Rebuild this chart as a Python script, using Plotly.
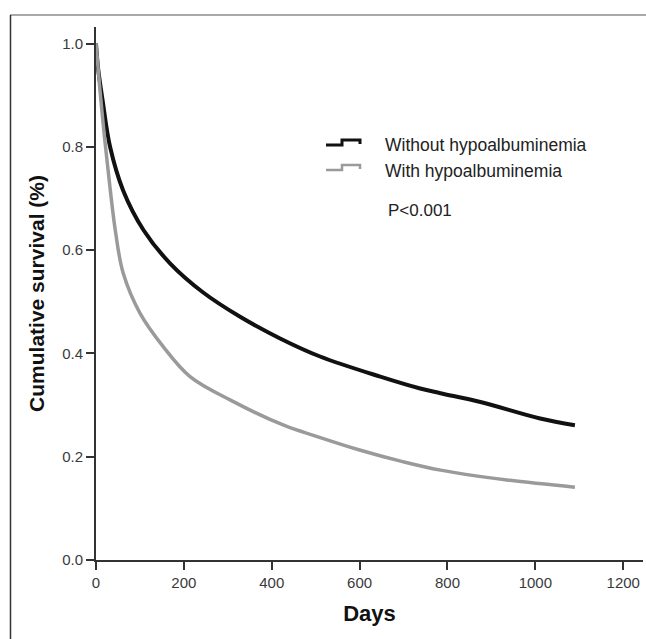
import plotly.graph_objects as go

# Data (Kaplan-Meier style cumulative survival)
days_without = [0, 5, 15, 32, 62, 108, 169, 244, 328, 419, 510, 647, 738, 784, 875, 1011, 1090]
surv_without = [1.0, 0.95, 0.89, 0.80, 0.715, 0.639, 0.574, 0.518, 0.471, 0.429, 0.394, 0.355, 0.332, 0.323, 0.306, 0.274, 0.261]

days_with = [0, 9, 20, 32, 45, 62, 100, 153, 214, 305, 430, 500, 600, 700, 784, 935, 1090]
surv_with = [1.0, 0.91, 0.813, 0.72, 0.632, 0.555, 0.478, 0.413, 0.355, 0.31, 0.26, 0.24, 0.213, 0.19, 0.174, 0.155, 0.141]

x_ticks = [0, 200, 400, 600, 800, 1000, 1200]
y_ticks = [0.0, 0.2, 0.4, 0.6, 0.8, 1.0]
y_tick_labels = ["0.0", "0.2", "0.4", "0.6", "0.8", "1.0"]

label_without = "Without hypoalbuminemia"
label_with = "With hypoalbuminemia"
p_text = "P<0.001"

BLACK = "#111111"
GRAY = "#9a9a9a"
FONT = "Liberation Sans, Arial, sans-serif"

fig = go.Figure()
fig.add_trace(go.Scatter(x=days_without, y=surv_without, mode="lines",
                         line=dict(color=BLACK, width=4, shape="spline", smoothing=1.0),
                         name=label_without, showlegend=False))
fig.add_trace(go.Scatter(x=days_with, y=surv_with, mode="lines",
                         line=dict(color=GRAY, width=3.5, shape="spline", smoothing=1.0),
                         name=label_with, showlegend=False))

W, H = 646, 639
L, R, T, B = 96, 3, 27, 79
pw, ph = W - L - R, H - T - B


def px(xp):
    return (xp - L) / pw


def py(yp):
    return (H - B - yp) / ph


shapes = []
# outer frame (top and left lines)
shapes.append(dict(type="line", xref="paper", yref="paper", x0=px(10), x1=px(646), y0=py(15), y1=py(15),
                   line=dict(color="#8c8c8c", width=1.5)))
shapes.append(dict(type="line", xref="paper", yref="paper", x0=px(10.5), x1=px(10.5), y0=py(15), y1=py(639),
                   line=dict(color="#333333", width=1.5)))

# legend step glyphs
for yb, col, w in [(145, BLACK, 3), (170, GRAY, 2.5)]:
    path = "M {} {} L {} {} L {} {} L {} {} L {} {}".format(
        px(326), py(yb), px(342), py(yb), px(342), py(yb - 5), px(360), py(yb - 5), px(360), py(yb - 1))
    shapes.append(dict(type="path", xref="paper", yref="paper", path=path,
                       line=dict(color=col, width=w)))

TXT = "#222222"
annotations = [
    dict(xref="paper", yref="paper", x=px(383), y=py(145), text=label_without, showarrow=False,
         xanchor="left", yanchor="middle", font=dict(family=FONT, size=17.5, color=TXT)),
    dict(xref="paper", yref="paper", x=px(383), y=py(171), text=label_with, showarrow=False,
         xanchor="left", yanchor="middle", font=dict(family=FONT, size=17.5, color=TXT)),
    dict(xref="paper", yref="paper", x=px(386), y=py(211), text=p_text, showarrow=False,
         xanchor="left", yanchor="middle", font=dict(family=FONT, size=17, color=TXT)),
]

fig.update_layout(
    width=W, height=H,
    margin=dict(l=L, r=R, t=T, b=B, autoexpand=False),
    paper_bgcolor="white", plot_bgcolor="white",
    font=dict(family=FONT, color="#333333"),
    shapes=shapes, annotations=annotations,
    showlegend=False,
)
fig.update_xaxes(range=[0, 1245], tickvals=x_ticks, ticks="outside", ticklen=8, tickwidth=2,
                 tickcolor="#333333", showline=True, linecolor="#333333", linewidth=2,
                 showgrid=False, zeroline=False, tickfont=dict(size=15, color="#3a3a3a"),
                 title=dict(text="<b>Days</b>", font=dict(size=22, color="#111111"), standoff=16))
fig.update_yaxes(range=[0, 1.032], tickvals=y_ticks, ticktext=y_tick_labels, ticks="outside",
                 ticklen=8, tickwidth=2, tickcolor="#333333", showline=True, linecolor="#333333",
                 linewidth=2, showgrid=False, zeroline=False, tickfont=dict(size=15, color="#3a3a3a"),
                 title=dict(text="<b>Cumulative survival (%)</b>", font=dict(size=21, color="#111111"),
                            standoff=12))

fig.write_html("out.html",
               config={"displayModeBar": False},
               post_script="document.body.style.margin='0';document.body.style.padding='0';"
                           "document.body.style.overflow='hidden';")
